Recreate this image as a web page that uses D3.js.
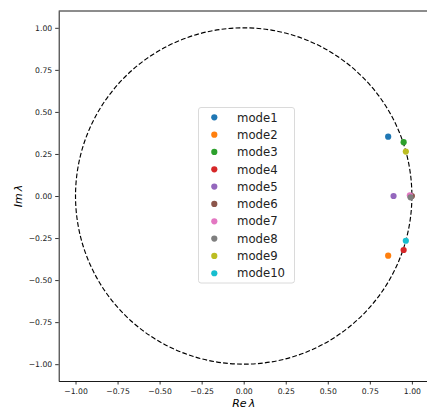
<!DOCTYPE html>
<html>
<head>
<meta charset="utf-8">
<script src="https://cdn.jsdelivr.net/npm/d3@7"></script>
<style>
  body { margin: 0; background: #fff; }
  svg { display: block; font-family: "DejaVu Sans", sans-serif; }
</style>
</head>
<body>
<div id="chart"></div>
<script>
// eigenvalues of each mode
const modes = ["mode1", "mode2", "mode3", "mode4", "mode5", "mode6", "mode7", "mode8", "mode9", "mode10"];
const reVals = [0.859, 0.859, 0.951, 0.951, 0.891, 1.000, 0.988, 0.992, 0.964, 0.964];
const imVals = [0.353, -0.355, 0.320, -0.321, 0.0, 0.0, 0.004, -0.008, 0.264, -0.266];
const tickVals = [-1.0, -0.75, -0.5, -0.25, 0.0, 0.25, 0.5, 0.75, 1.0];
const colors = ["#1f77b4", "#ff7f0e", "#2ca02c", "#d62728", "#9467bd",
  "#8c564b", "#e377c2", "#7f7f7f", "#bcbd22", "#17becf"];

const width = 427;
const height = 410;

const svg = d3.select("#chart").append("svg")
  .attr("width", width)
  .attr("height", height);

// equal aspect, limits -1.1 .. 1.1 (right side is cut by the picture)
const xScale = d3.scaleLinear().domain([-1.1, 1.1]).range([58.7, 428.7]);
const yScale = d3.scaleLinear().domain([-1.1, 1.1]).range([381, 11]);

const fmt = function (d) {
  return d3.format(".2f")(d).replace("-", "\u2212");
};

// axes
const axisx = d3.axisBottom(xScale).tickValues(tickVals).tickFormat(fmt).tickSize(3.5).tickSizeOuter(0);
const axisy = d3.axisLeft(yScale).tickValues(tickVals).tickFormat(fmt).tickSize(3.5).tickSizeOuter(0);

const gx = svg.append("g")
  .attr("transform", "translate(0," + yScale(-1.1) + ")")
  .call(axisx);
const gy = svg.append("g")
  .attr("transform", "translate(" + xScale(-1.1) + ",0)")
  .call(axisy);

[gx, gy].forEach(function (g) {
  g.selectAll("text").attr("font-size", 7.7).attr("fill", "#222").attr("font-family", "DejaVu Sans");
  g.selectAll("line").attr("stroke", "#000").attr("stroke-width", 0.8);
  g.select(".domain").attr("stroke", "#000").attr("stroke-width", 0.9);
});
gx.selectAll("text").attr("dy", "0.9em");

// top spine
svg.append("line")
  .attr("x1", xScale(-1.1)).attr("x2", xScale(1.1))
  .attr("y1", yScale(1.1)).attr("y2", yScale(1.1))
  .attr("stroke", "#000").attr("stroke-width", 0.9);

// unit circle
svg.append("circle")
  .attr("cx", xScale(0))
  .attr("cy", yScale(0))
  .attr("r", xScale(1) - xScale(0))
  .attr("fill", "none")
  .attr("stroke", "#000")
  .attr("stroke-width", 1.15)
  .attr("stroke-dasharray", "4.8,2.2");

// eigenvalue points
const pts = modes.map(function (m, i) {
  return { name: m, re: reVals[i], im: imVals[i], color: colors[i] };
});

svg.append("g")
  .selectAll("circle")
  .data(pts)
  .enter()
  .append("circle")
  .attr("cx", function (d) { return xScale(d.re); })
  .attr("cy", function (d) { return yScale(d.im); })
  .attr("r", 3.1)
  .attr("fill", function (d) { return d.color; });

// axis labels
svg.append("text")
  .attr("x", xScale(0))
  .attr("y", 406.5)
  .attr("text-anchor", "middle")
  .attr("font-size", 11)
  .attr("font-style", "italic")
  .text("Re\u2009\u03bb");

svg.append("text")
  .attr("transform", "translate(22," + yScale(0) + ") rotate(-90)")
  .attr("text-anchor", "middle")
  .attr("font-size", 11)
  .attr("font-style", "italic")
  .text("Im\u2009\u03bb");

// legend
const legend = svg.append("g");
legend.append("rect")
  .attr("x", 198.5)
  .attr("y", 107.5)
  .attr("width", 96)
  .attr("height", 175.5)
  .attr("rx", 2.5)
  .attr("fill", "#fff")
  .attr("fill-opacity", 0.8)
  .attr("stroke", "#d6d6d6")
  .attr("stroke-width", 0.9);

const items = legend.selectAll("g.item")
  .data(pts)
  .enter()
  .append("g")
  .attr("class", "item")
  .attr("transform", function (d, i) { return "translate(0," + (117.3 + i * 17.33) + ")"; });

items.append("circle")
  .attr("cx", 214.3)
  .attr("cy", 0)
  .attr("r", 3.1)
  .attr("fill", function (d) { return d.color; });

items.append("text")
  .attr("x", 237)
  .attr("y", 0)
  .attr("dy", "0.36em")
  .attr("font-size", 11.7)
  .attr("fill", "#222")
  .text(function (d) { return d.name; });
</script>
</body>
</html>
